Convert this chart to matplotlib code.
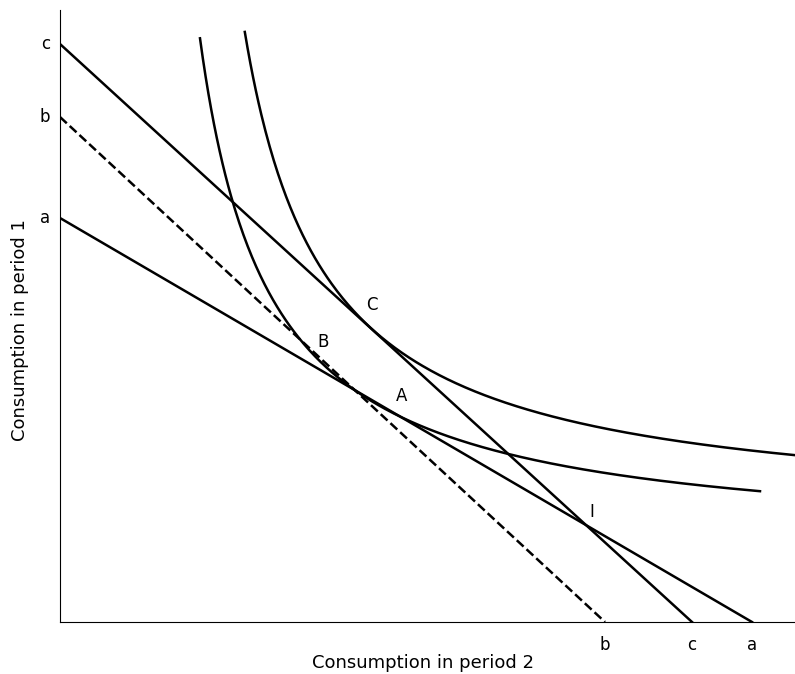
import numpy as np
import matplotlib.pyplot as plt

# budget line intercepts (y-intercept, x-intercept)
lines = {"a": (404, 692), "b": (505, 545), "c": (578, 632)}
# indifference curves y = y0 + k/(x-x0): (y0, x0, k, xstart, xend)
curves = [(75, 71, 35100, 140, 700), (105, 104.4, 39000, 184.8, 735)]
points = {"C": (312, 317), "B": (263, 280), "A": (342, 226), "I": (532, 110)}

fig = plt.figure(figsize=(7.95, 6.74), dpi=100)
ax = fig.add_axes([60/795, 52/674, 735/795, 612/674])
ax.set_xlim(0, 735); ax.set_ylim(0, 612)
for s in ["top", "right"]:
    ax.spines[s].set_visible(False)
ax.set_xticks([]); ax.set_yticks([])

for name, (yi, xi) in lines.items():
    ax.plot([0, xi], [yi, 0], color="black", lw=1.8, ls="--" if name == "b" else "-")
    ax.text(-10, yi, name, ha="right", va="center", fontsize=12)
    ax.text(xi, -14, name, ha="center", va="top", fontsize=12)
for y0, x0, k, xs, xe in curves:
    x = np.linspace(xs, xe, 400)
    ax.plot(x, y0 + k/(x - x0), color="black", lw=1.8)
for n, (x, y) in points.items():
    ax.text(x, y, n, fontsize=12, ha="center", va="center")
fig.text(423/795, 1 - 663/674, "Consumption in period 2", fontsize=13, ha="center", va="center")
fig.text(20/795, 1 - 330/674, "Consumption in period 1", fontsize=13, ha="center", va="center", rotation=90)
fig.savefig("out.png", dpi=100)
